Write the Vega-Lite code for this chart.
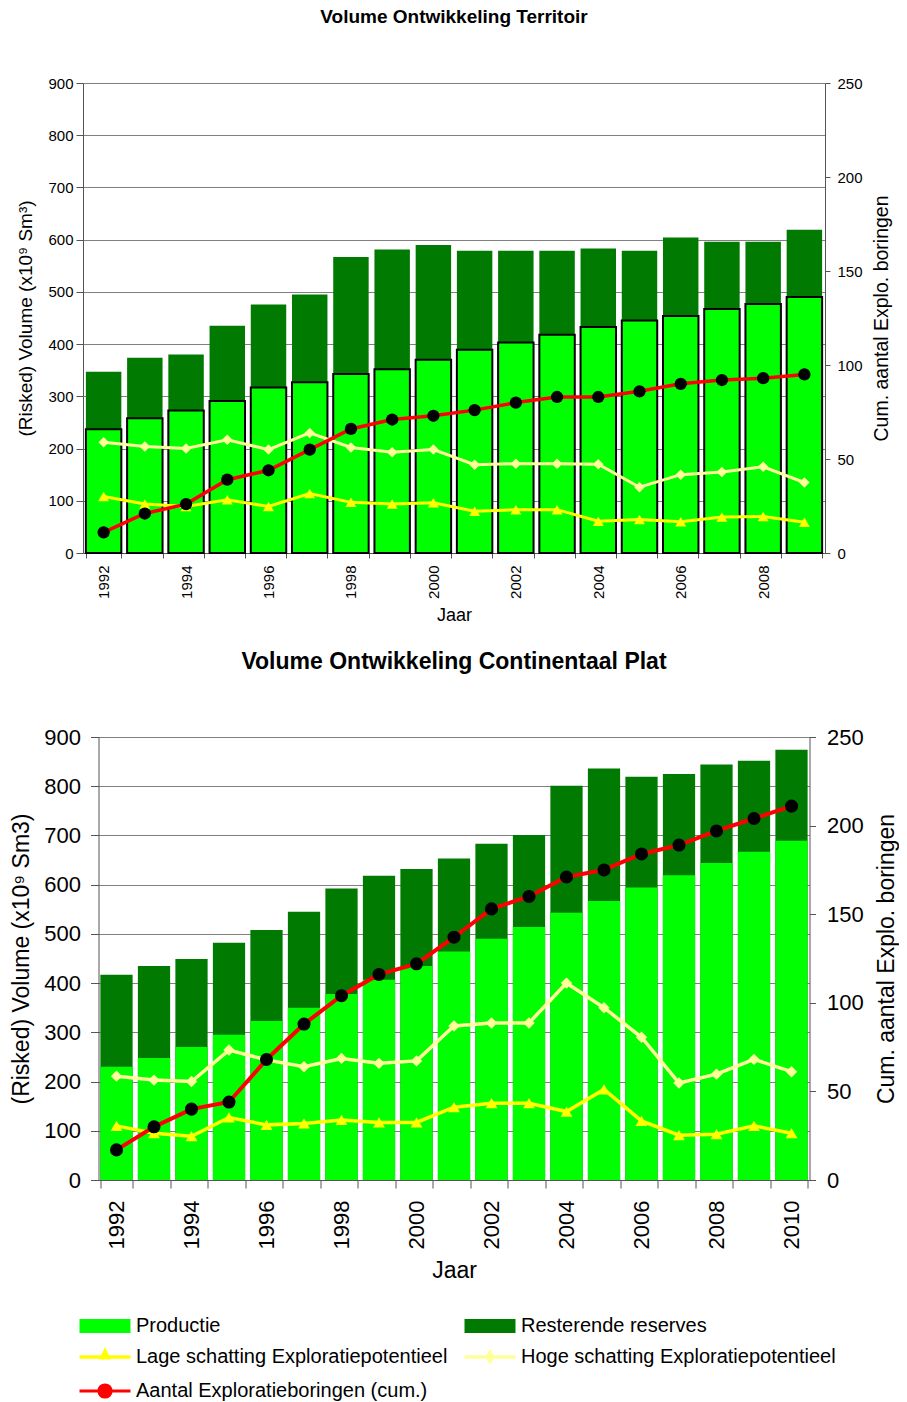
{
  "$schema": "https://vega.github.io/schema/vega-lite/v6.json",
  "background": "white",
  "padding": {"left": 10, "top": 8, "right": 0, "bottom": 0},
  "config": {
    "font": "Liberation Sans",
    "view": {"stroke": null},
    "axis": {"labelFont": "Liberation Sans", "titleFont": "Liberation Sans", "labelColor": "black", "titleColor": "black", "titleFontWeight": "normal", "domainColor": "#555555", "tickColor": "#555555", "gridColor": "#808080"}
  },
  "datasets": {
    "territoir": [
      {"year": 1992, "productie": 237, "totaal": 347, "lage": 108, "hoge": 212, "cum": 11},
      {"year": 1993, "productie": 258, "totaal": 374, "lage": 94, "hoge": 204, "cum": 21},
      {"year": 1994, "productie": 273, "totaal": 380, "lage": 89, "hoge": 200, "cum": 26},
      {"year": 1995, "productie": 291, "totaal": 435, "lage": 102, "hoge": 217, "cum": 39},
      {"year": 1996, "productie": 317, "totaal": 476, "lage": 89, "hoge": 198, "cum": 44},
      {"year": 1997, "productie": 327, "totaal": 495, "lage": 114, "hoge": 230, "cum": 55},
      {"year": 1998, "productie": 343, "totaal": 567, "lage": 97, "hoge": 202, "cum": 66},
      {"year": 1999, "productie": 352, "totaal": 581, "lage": 94, "hoge": 193, "cum": 71},
      {"year": 2000, "productie": 370, "totaal": 590, "lage": 96, "hoge": 198, "cum": 73},
      {"year": 2001, "productie": 389, "totaal": 579, "lage": 80, "hoge": 169, "cum": 76},
      {"year": 2002, "productie": 403, "totaal": 579, "lage": 83, "hoge": 171, "cum": 80},
      {"year": 2003, "productie": 418, "totaal": 579, "lage": 83, "hoge": 171, "cum": 83},
      {"year": 2004, "productie": 433, "totaal": 583, "lage": 61, "hoge": 170, "cum": 83},
      {"year": 2005, "productie": 445, "totaal": 579, "lage": 64, "hoge": 126, "cum": 86},
      {"year": 2006, "productie": 454, "totaal": 604, "lage": 60, "hoge": 150, "cum": 90},
      {"year": 2007, "productie": 467, "totaal": 596, "lage": 69, "hoge": 155, "cum": 92},
      {"year": 2008, "productie": 477, "totaal": 596, "lage": 70, "hoge": 165, "cum": 93},
      {"year": 2009, "productie": 490, "totaal": 619, "lage": 59, "hoge": 135, "cum": 95}
    ],
    "plat": [
      {"year": 1992, "productie": 230, "totaal": 417, "lage": 110, "hoge": 211, "cum": 17},
      {"year": 1993, "productie": 248, "totaal": 435, "lage": 95, "hoge": 203, "cum": 30},
      {"year": 1994, "productie": 270, "totaal": 449, "lage": 89, "hoge": 200, "cum": 40},
      {"year": 1995, "productie": 295, "totaal": 482, "lage": 127, "hoge": 264, "cum": 44},
      {"year": 1996, "productie": 323, "totaal": 508, "lage": 112, "hoge": 244, "cum": 68},
      {"year": 1997, "productie": 350, "totaal": 545, "lage": 115, "hoge": 230, "cum": 88},
      {"year": 1998, "productie": 378, "totaal": 592, "lage": 122, "hoge": 247, "cum": 104},
      {"year": 1999, "productie": 407, "totaal": 618, "lage": 117, "hoge": 237, "cum": 116},
      {"year": 2000, "productie": 435, "totaal": 632, "lage": 117, "hoge": 242, "cum": 122},
      {"year": 2001, "productie": 464, "totaal": 653, "lage": 148, "hoge": 313, "cum": 137},
      {"year": 2002, "productie": 490, "totaal": 683, "lage": 156, "hoge": 319, "cum": 153},
      {"year": 2003, "productie": 514, "totaal": 701, "lage": 156, "hoge": 319, "cum": 160},
      {"year": 2004, "productie": 543, "totaal": 801, "lage": 139, "hoge": 400, "cum": 171},
      {"year": 2005, "productie": 567, "totaal": 836, "lage": 184, "hoge": 350, "cum": 175},
      {"year": 2006, "productie": 594, "totaal": 819, "lage": 120, "hoge": 290, "cum": 184},
      {"year": 2007, "productie": 619, "totaal": 825, "lage": 91, "hoge": 197, "cum": 189},
      {"year": 2008, "productie": 644, "totaal": 844, "lage": 93, "hoge": 215, "cum": 197},
      {"year": 2009, "productie": 667, "totaal": 852, "lage": 110, "hoge": 245, "cum": 204},
      {"year": 2010, "productie": 689, "totaal": 874, "lage": 95, "hoge": 220, "cum": 211}
    ]
  },
  "vconcat": [
    {
      "width": 742,
      "height": 470,
      "title": {"text": "Volume Ontwikkeling Territoir", "fontSize": 19, "fontWeight": "bold", "font": "Liberation Sans", "anchor": "middle", "offset": 49},
      "data": {"name": "territoir"},
      "encoding": {
        "x": {"field": "year", "type": "ordinal", "title": "Jaar",
          "scale": {"paddingInner": 0.14, "paddingOuter": 0.07},
          "axis": {"labelAngle": -90, "labelFontSize": 15, "titleFontSize": 18, "tickBand": "extent", "tickSize": 5, "labelPadding": 7, "labelOverlap": false, "labelExpr": "datum.value % 2 === 0 ? datum.label : ''", "titlePadding": 8}}
      },
      "layer": [
        {"layer": [
          {"mark": {"type": "bar"},
           "encoding": {
             "y": {"field": "totaal", "type": "quantitative", "stack": null, "title": "(Risked) Volume (x10⁹ Sm³)", "scale": {"domain": [0, 900], "nice": false},
               "axis": {"values": [0,100,200,300,400,500,600,700,800,900], "labelFontSize": 15, "titleFontSize": 19, "tickSize": 7, "labelPadding": 3, "titlePadding": 12, "grid": true}},
             "color": {"datum": "Resterende reserves", "type": "nominal",
               "scale": {"domain": ["Productie", "Resterende reserves", "Lage schatting Exploratiepotentieel", "Hoge schatting Exploratiepotentieel", "Aantal Exploratieboringen (cum.)"],
                         "range": ["#00FF00", "#007A00", "#FFFF00", "#FFFF99", "#FF0000"]},
               "legend": {"orient": "none", "legendX": 12, "legendY": 1233, "columns": 2, "direction": "horizontal", "title": null,
                 "labelFont": "Liberation Sans", "labelFontSize": 20, "labelColor": "black", "labelLimit": 500,
                 "symbolSize": 2601, "columnPadding": 16, "rowPadding": 11, "labelOffset": 21,
                 "encode": {"symbols": {"update": {
                   "shape": {"signal": "datum.value === 'Productie' || datum.value === 'Resterende reserves' ? 'M-1,-0.27H1V0.27H-1Z' : datum.value === 'Lage schatting Exploratiepotentieel' ? 'M-1,-0.07H1V0.07H-1ZM0,-0.38L0.24,0.1H-0.24Z' : datum.value === 'Hoge schatting Exploratiepotentieel' ? 'M-1,-0.07H1V0.07H-1ZM0,-0.3L0.2,0L0,0.3L-0.2,0Z' : 'M-1,0H1M0.24,0A0.24,0.24 0 1 1 -0.24,0A0.24,0.24 0 1 1 0.24,0Z'"},
                   "stroke": {"signal": "datum.value === 'Aantal Exploratieboringen (cum.)' ? '#FF0000' : 'transparent'"},
                   "strokeWidth": {"signal": "datum.value === 'Aantal Exploratieboringen (cum.)' ? 3 : 0"},
                   "opacity": {"value": 1},
                   "fillOpacity": {"value": 1},
                   "strokeOpacity": {"value": 1}
                 }}}}}
           }},
          {"mark": {"type": "bar", "stroke": "black", "strokeWidth": 2},
           "encoding": {
             "y": {"field": "productie", "type": "quantitative", "stack": null, "title": "(Risked) Volume (x10⁹ Sm³)"},
             "color": {"datum": "Productie", "type": "nominal"}
           }},
          {"mark": {"type": "line", "strokeWidth": 3, "point": {"shape": "diamond", "size": 110, "filled": true}},
           "encoding": {
             "y": {"field": "hoge", "type": "quantitative", "title": "(Risked) Volume (x10⁹ Sm³)"},
             "color": {"datum": "Hoge schatting Exploratiepotentieel", "type": "nominal"}
           }},
          {"mark": {"type": "line", "strokeWidth": 3, "point": {"shape": "triangle-up", "size": 120, "filled": true}},
           "encoding": {
             "y": {"field": "lage", "type": "quantitative", "title": "(Risked) Volume (x10⁹ Sm³)"},
             "color": {"datum": "Lage schatting Exploratiepotentieel", "type": "nominal"}
           }}
        ]},
        {"layer": [
          {"mark": {"type": "line", "strokeWidth": 3.5},
           "encoding": {
             "y": {"field": "cum", "type": "quantitative", "title": "Cum. aantal Explo. boringen", "scale": {"domain": [0, 250], "nice": false},
               "axis": {"orient": "right", "values": [0,50,100,150,200,250], "grid": false, "labelFontSize": 15, "titleFontSize": 19.5, "tickSize": 5, "labelPadding": 7, "titlePadding": 10, "titleAngle": 270, "titleBaseline": "top"}},
             "color": {"datum": "Aantal Exploratieboringen (cum.)", "type": "nominal"}
           }},
          {"mark": {"type": "point", "filled": true, "fill": "black", "color": "black", "opacity": 1, "size": 150},
           "encoding": {
             "y": {"field": "cum", "type": "quantitative", "title": "Cum. aantal Explo. boringen"}
           }}
        ]}
      ],
      "resolve": {"scale": {"y": "independent"}}
    },
    {
      "width": 711,
      "height": 443,
      "title": {"text": "Volume Ontwikkeling Continentaal Plat", "fontSize": 23, "fontWeight": "bold", "font": "Liberation Sans", "anchor": "middle", "offset": 52},
      "data": {"name": "plat"},
      "encoding": {
        "x": {"field": "year", "type": "ordinal", "title": "Jaar",
          "scale": {"paddingInner": 0.14, "paddingOuter": 0.05},
          "axis": {"labelAngle": -90, "labelFontSize": 22, "titleFontSize": 23, "tickBand": "extent", "tickSize": 8, "labelPadding": 12, "labelOverlap": false, "labelExpr": "datum.value % 2 === 0 ? datum.label : ''", "titlePadding": 11}}
      },
      "layer": [
        {"layer": [
          {"mark": {"type": "bar"},
           "encoding": {
             "y": {"field": "totaal", "type": "quantitative", "stack": null, "title": "(Risked) Volume (x10⁹ Sm3)", "scale": {"domain": [0, 900], "nice": false},
               "axis": {"values": [0,100,200,300,400,500,600,700,800,900], "labelFontSize": 22, "titleFontSize": 23, "tickSize": 8, "labelPadding": 10, "titlePadding": 10, "grid": true}},
             "color": {"datum": "Resterende reserves", "type": "nominal"}
           }},
          {"mark": {"type": "bar"},
           "encoding": {
             "y": {"field": "productie", "type": "quantitative", "stack": null, "title": "(Risked) Volume (x10⁹ Sm3)"},
             "color": {"datum": "Productie", "type": "nominal"}
           }},
          {"mark": {"type": "line", "strokeWidth": 3.5, "point": {"shape": "diamond", "size": 130, "filled": true}},
           "encoding": {
             "y": {"field": "hoge", "type": "quantitative", "title": "(Risked) Volume (x10⁹ Sm3)"},
             "color": {"datum": "Hoge schatting Exploratiepotentieel", "type": "nominal"}
           }},
          {"mark": {"type": "line", "strokeWidth": 3.5, "point": {"shape": "triangle-up", "size": 140, "filled": true}},
           "encoding": {
             "y": {"field": "lage", "type": "quantitative", "title": "(Risked) Volume (x10⁹ Sm3)"},
             "color": {"datum": "Lage schatting Exploratiepotentieel", "type": "nominal"}
           }}
        ]},
        {"layer": [
          {"mark": {"type": "line", "strokeWidth": 4},
           "encoding": {
             "y": {"field": "cum", "type": "quantitative", "title": "Cum. aantal Explo. boringen", "scale": {"domain": [0, 250], "nice": false},
               "axis": {"orient": "right", "values": [0,50,100,150,200,250], "grid": false, "labelFontSize": 22, "titleFontSize": 23, "tickSize": 6, "labelPadding": 11, "titlePadding": 12, "titleAngle": 270, "titleBaseline": "top"}},
             "color": {"datum": "Aantal Exploratieboringen (cum.)", "type": "nominal"}
           }},
          {"mark": {"type": "point", "filled": true, "fill": "black", "color": "black", "opacity": 1, "size": 170},
           "encoding": {
             "y": {"field": "cum", "type": "quantitative", "title": "Cum. aantal Explo. boringen"}
           }}
        ]}
      ],
      "resolve": {"scale": {"y": "independent"}}
    }
  ],
  "spacing": 184,
  "bounds": "flush",
  "center": true
}
